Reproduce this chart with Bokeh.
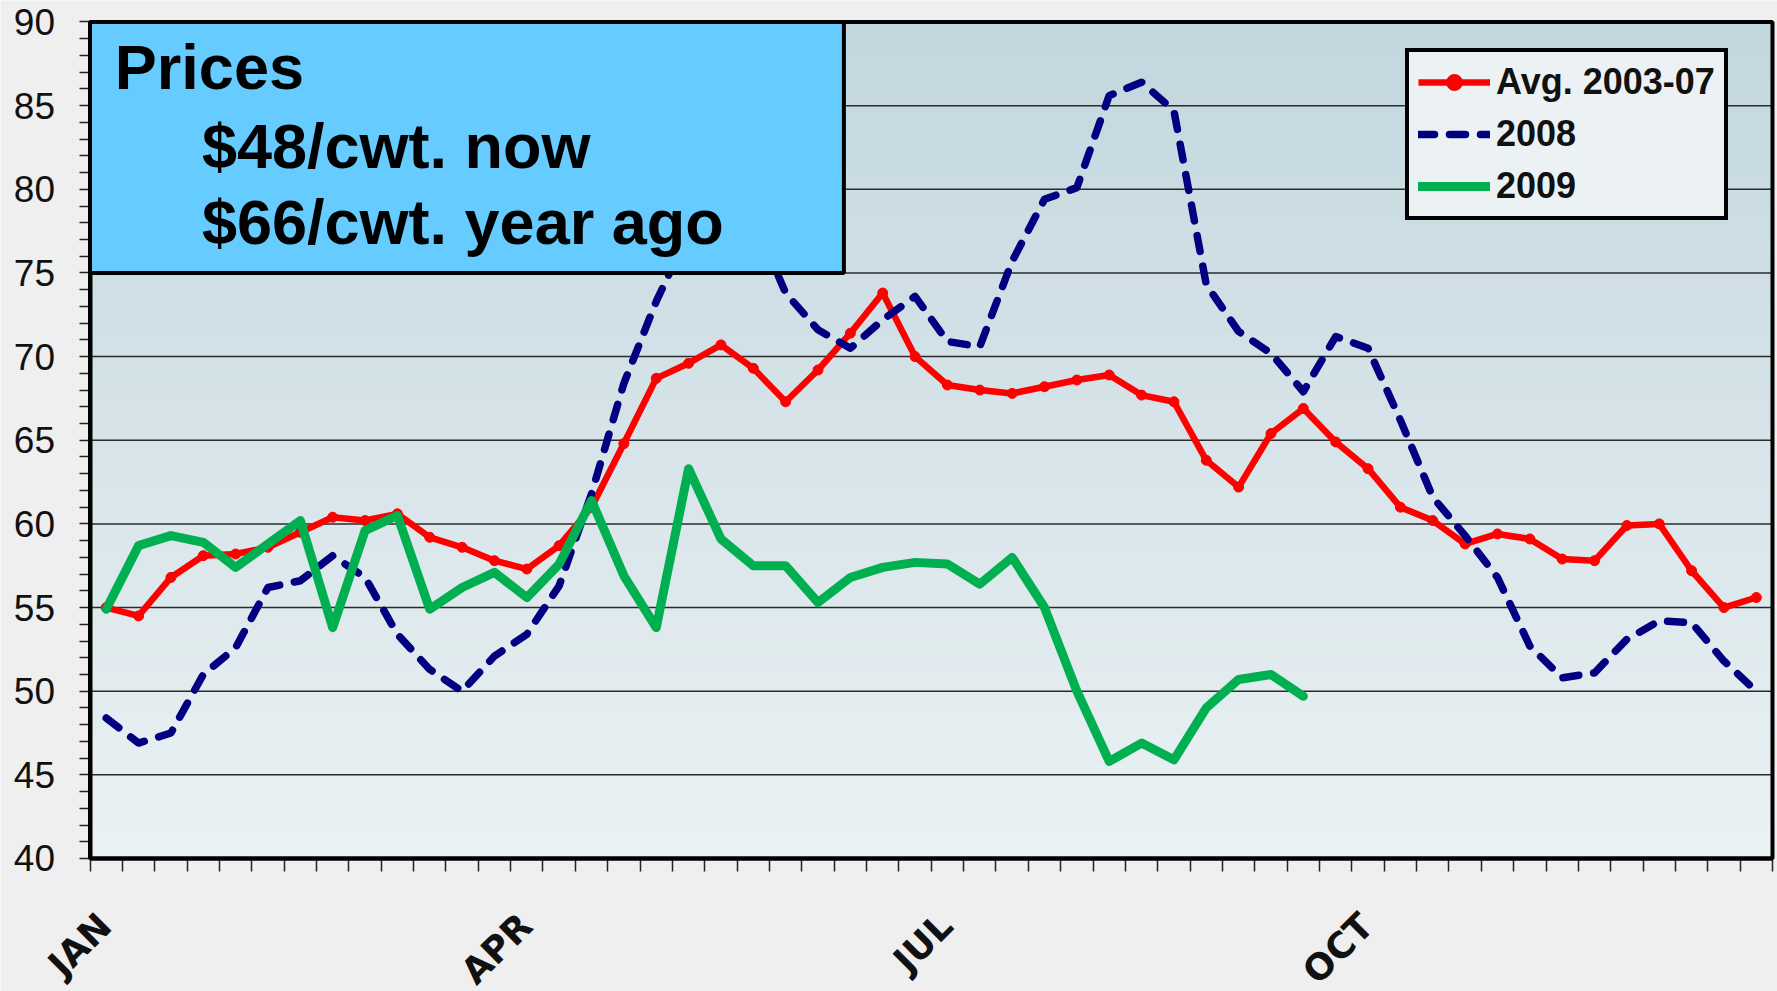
import math
import numpy as np
from bokeh.plotting import figure
from bokeh.models import Range1d, FixedTicker, BoxAnnotation, Label, Legend, LegendItem
from bokeh.embed import file_html
from bokeh.resources import INLINE

# ---------------- data ----------------
weeks = list(range(52))
series_names = ["Avg. 2003-07", "2008", "2009"]
avg_2003_07 = [55.0, 54.5, 56.8, 58.1, 58.2, 58.6, 59.5, 60.4, 60.2, 60.6,
               59.2, 58.6, 57.8, 57.3, 58.7, 61.0, 64.8, 68.7, 69.6, 70.7,
               69.3, 67.3, 69.2, 71.4, 73.8, 70.0, 68.3, 68.0, 67.8, 68.2,
               68.6, 68.9, 67.7, 67.3, 63.8, 62.2, 65.4, 66.9, 64.9, 63.3,
               61.0, 60.2, 58.8, 59.4, 59.1, 57.9, 57.8, 59.9, 60.0, 57.2,
               55.0, 55.6]
y2008 = [48.4, 46.9, 47.5, 51.0, 52.6, 56.2, 56.6, 58.1, 56.8, 53.4,
         51.3, 50.0, 52.1, 53.4, 56.3, 61.8, 68.4, 73.3, 77.4, 79.0,
         78.3, 73.8, 71.6, 70.5, 72.2, 73.6, 70.9, 70.6, 75.7, 79.4,
         80.1, 85.6, 86.4, 84.7, 74.3, 71.5, 70.2, 67.9, 71.2, 70.5,
         66.2, 61.6, 59.3, 56.8, 52.7, 50.8, 51.1, 53.1, 54.2, 54.1,
         51.8, 50.0]
y2009 = [54.9, 58.7, 59.3, 58.9, 57.4, 58.8, 60.2, 53.8, 59.6, 60.5,
         54.9, 56.2, 57.1, 55.6, 57.6, 61.4, 56.9, 53.8, 63.3, 59.1,
         57.5, 57.5, 55.3, 56.8, 57.4, 57.7, 57.6, 56.4, 58.0, 55.0,
         50.0, 45.8, 46.9, 45.9, 49.0, 50.7, 51.0, 49.7]
quarter_labels = ["JAN", "APR", "JUL", "OCT"]
quarter_start_weeks = [0, 13, 26, 39]
y_ticks = list(range(40, 91, 5))
box_lines = ["Prices", "$48/cwt. now", "$66/cwt. year ago"]

# ---------------- styling ----------------
FONT = "Liberation Sans"
RED = "#ff0000"
NAVY = "#000080"
GREEN = "#00b050"
PAGE_BG = "#efefef"

x0, x1 = -0.5, 51.5
y0, y1 = 40, 90
# The frame fills the whole canvas; the plot area (-0.5..51.5, 40..90) sits
# inside it so that tick labels and month labels are never clipped.
X_START, X_END = -3.267, 51.655
Y_START, Y_END = 32.05, 91.285

p = figure(width=1777, height=991, output_backend="svg", toolbar_location=None,
           x_range=Range1d(X_START, X_END), y_range=Range1d(Y_START, Y_END),
           x_axis_location="above", y_axis_location="right",
           min_border=0, min_border_left=0, min_border_right=0,
           min_border_top=0, min_border_bottom=0)
p.border_fill_color = PAGE_BG
p.background_fill_color = PAGE_BG
p.outline_line_color = None
p.xgrid.visible = False
p.ygrid.visible = False

# vertical gradient background of the plot area
n = 256
t = np.linspace(0.0, 1.0, n)[:, None]
c_bottom = np.array([0xEB, 0xF2, 0xF4], dtype=float)
c_top = np.array([0xC3, 0xD7, 0xDF], dtype=float)
rgb = c_bottom + (c_top - c_bottom) * t
img = np.zeros((n, 1), dtype=np.uint32)
view = img.view(dtype=np.uint8).reshape((n, 1, 4))
view[:, 0, 0:3] = rgb.astype(np.uint8)
view[:, 0, 3] = 255
p.image_rgba(image=[img], x=x0, y=y0, dw=x1 - x0, dh=y1 - y0, level="image")

# horizontal grid lines, limited to the plot area
p.segment(x0=[x0] * len(y_ticks), y0=y_ticks, x1=[x1] * len(y_ticks), y1=y_ticks,
          line_color="#2b2b2b", line_width=1.5, level="underlay")

# y axis drawn at x=-0.5, ticks pointing left
ya = p.yaxis[0]
ya.fixed_location = x0
ya.bounds = (y0, y1)
ya.ticker = FixedTicker(ticks=[], minor_ticks=list(range(y0, y1 + 1)))
ya.axis_line_color = "black"
ya.axis_line_width = 4
ya.major_tick_in = 0
ya.major_tick_out = 0
ya.minor_tick_out = 0
ya.minor_tick_in = 11
ya.minor_tick_line_color = "#222222"
ya.minor_tick_line_width = 1.5
ya.major_label_standoff = 0

for v in y_ticks:
    p.add_layout(Label(x=x0, y=v, x_offset=-35, text=str(v),
                       text_align="right", text_baseline="middle",
                       text_font=FONT, text_font_size="37px", text_color="#111111"))

# x axis drawn at y=40, week boundaries as ticks pointing down
xa = p.xaxis[0]
xa.fixed_location = y0
xa.bounds = (x0, x1)
boundaries = [w - 0.5 for w in weeks] + [weeks[-1] + 0.5]
xa.ticker = FixedTicker(ticks=[], minor_ticks=boundaries)
xa.axis_line_color = "black"
xa.axis_line_width = 4
xa.major_tick_in = 0
xa.major_tick_out = 0
xa.minor_tick_out = 0
xa.minor_tick_in = 13
xa.minor_tick_line_color = "#222222"
xa.minor_tick_line_width = 1.5
xa.major_label_standoff = 0

for lab, wk in zip(quarter_labels, quarter_start_weeks):
    p.add_layout(Label(x=wk - 0.5, y=y0, x_offset=15, y_offset=-61, text=lab,
                       angle=math.pi / 4, text_align="right", text_baseline="middle",
                       text_font="DejaVu Sans", text_font_size="36px",
                       text_font_style="bold", text_color="#111111"))

# series
r_avg = p.line(weeks, avg_2003_07, line_color=RED, line_width=6.5, line_join="round")
r_avg_pts = p.scatter(weeks, avg_2003_07, marker="circle", size=10, fill_color=RED,
                      line_color=RED)
r_2008 = p.line(weeks, y2008, line_color=NAVY, line_width=7.5, line_dash="16 15",
                line_cap="round", line_join="round")
r_2009 = p.line(weeks[:len(y2009)], y2009, line_color=GREEN, line_width=9,
                line_join="round", line_cap="round")

# text box
p.add_layout(BoxAnnotation(left=x0, right=22.8, bottom=75, top=y1,
                           fill_color="#66ccff", fill_alpha=1.0,
                           line_color="black", line_alpha=1.0, line_width=4))
text_pos = [(0.266, 87.30), (2.958, 82.61), (2.958, 78.05)]
for txt, (tx, ty) in zip(box_lines, text_pos):
    p.add_layout(Label(x=tx, y=ty, text=txt, text_font=FONT, text_font_size="63px",
                       text_font_style="bold", text_color="black",
                       text_align="left", text_baseline="alphabetic"))

# plot-area outline
p.add_layout(BoxAnnotation(left=x0, right=x1, bottom=y0, top=y1,
                           fill_color=None, line_color="black", line_alpha=1.0,
                           line_width=4))

legend = Legend(items=[LegendItem(label=series_names[0], renderers=[r_avg, r_avg_pts]),
                       LegendItem(label=series_names[1], renderers=[r_2008]),
                       LegendItem(label=series_names[2], renderers=[r_2009])],
                location=(1405, 771), orientation="vertical")
legend.border_line_color = "black"
legend.border_line_alpha = 1.0
legend.border_line_width = 4
legend.background_fill_color = "#ecf2f3"
legend.background_fill_alpha = 1.0
legend.label_text_font = FONT
legend.label_text_font_style = "bold"
legend.label_text_font_size = "36px"
legend.label_text_color = "#111111"
legend.glyph_width = 72
legend.glyph_height = 40
legend.label_height = 40
legend.spacing = 10
legend.padding = 9
legend.label_standoff = 6
legend.margin = 0
p.add_layout(legend)

open("out.html", "w").write(file_html(p, INLINE))
